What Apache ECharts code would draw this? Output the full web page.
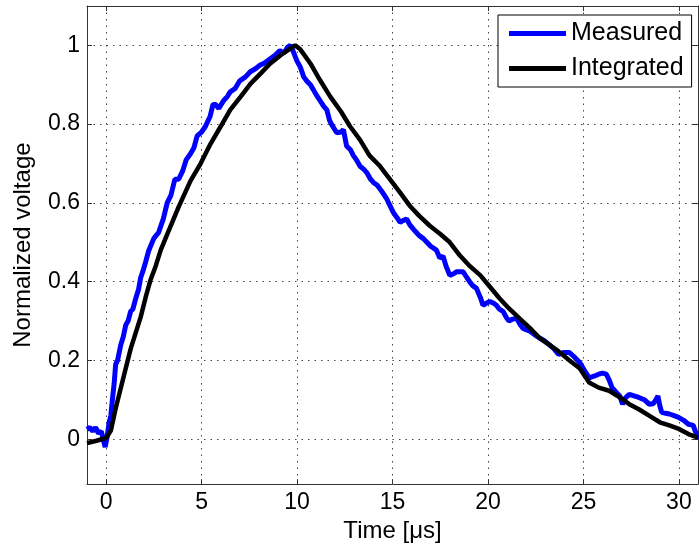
<!DOCTYPE html>
<html>
<head>
<meta charset="utf-8">
<script src="https://cdn.jsdelivr.net/npm/echarts@6/dist/echarts.min.js"></script>
<style>html,body{margin:0;padding:0;background:#fff;}#c{width:699px;height:548px;}</style>
</head>
<body>
<div id="c"></div>
<script>
// ---- data (time in microseconds, normalized voltage) ----
var measuredT = [-1,-0.85,-0.7,-0.55,-0.4,-0.25,-0.15,-0.05,0.05,0.15,0.25,0.35,0.42,0.5,0.6,0.77,0.9,1.03,1.15,1.29,1.4,1.55,1.7,1.81,1.95,2.07,2.24,2.5,2.75,3.0,3.2,3.4,3.6,3.8,4.0,4.2,4.42,4.6,4.77,5.0,5.2,5.45,5.6,5.73,5.9,6.16,6.35,6.5,6.75,7.0,7.3,7.55,7.8,8.07,8.3,8.6,8.85,9.1,9.3,9.5,9.65,9.8,9.9,10.0,10.17,10.35,10.5,10.7,10.86,11.0,11.2,11.4,11.56,11.7,11.8,12.08,12.3,12.43,12.6,12.8,12.95,13.1,13.3,13.5,13.65,13.85,14.0,14.2,14.35,14.5,14.7,14.9,15.04,15.2,15.4,15.55,15.74,15.9,16.08,16.25,16.4,16.6,16.8,17.0,17.1,17.3,17.48,17.65,17.8,18.0,18.2,18.35,18.7,18.9,19.04,19.2,19.4,19.6,19.74,19.9,20.1,20.3,20.44,20.6,20.8,20.95,21.1,21.3,21.5,21.7,21.83,22.0,22.2,22.45,22.7,22.95,23.2,23.45,23.7,23.95,24.27,24.5,24.8,25.05,25.3,25.55,25.8,26.0,26.2,26.35,26.5,26.7,26.9,27.05,27.2,27.4,27.65,27.9,28.2,28.44,28.65,28.8,28.9,29.0,29.1,29.3,29.5,29.75,30.0,30.25,30.5,30.75,30.9,31];
var measuredV = [0.025,0.03,0.02,0.03,0.015,0.02,0.0,-0.02,0.005,0.04,0.06,0.11,0.14,0.19,0.2,0.24,0.26,0.29,0.3,0.325,0.33,0.357,0.38,0.41,0.43,0.45,0.48,0.51,0.525,0.56,0.6,0.62,0.66,0.66,0.68,0.71,0.725,0.74,0.77,0.78,0.794,0.82,0.85,0.85,0.84,0.86,0.87,0.882,0.89,0.91,0.92,0.933,0.94,0.95,0.955,0.966,0.975,0.987,0.98,0.995,1.0,0.985,0.99,0.96,0.945,0.92,0.91,0.9,0.887,0.875,0.86,0.845,0.836,0.81,0.8,0.778,0.78,0.786,0.744,0.735,0.72,0.71,0.693,0.685,0.677,0.66,0.652,0.645,0.635,0.625,0.61,0.59,0.576,0.565,0.551,0.555,0.559,0.545,0.534,0.525,0.517,0.51,0.5,0.49,0.49,0.48,0.46,0.465,0.44,0.416,0.42,0.425,0.425,0.41,0.4,0.39,0.383,0.36,0.34,0.345,0.35,0.345,0.34,0.33,0.324,0.31,0.3,0.305,0.307,0.29,0.282,0.278,0.274,0.265,0.257,0.25,0.24,0.23,0.215,0.22,0.22,0.21,0.195,0.175,0.156,0.16,0.165,0.168,0.165,0.15,0.131,0.12,0.11,0.089,0.105,0.114,0.11,0.106,0.1,0.089,0.09,0.1,0.11,0.085,0.068,0.066,0.064,0.06,0.055,0.048,0.038,0.035,0.015,0.0];
var integratedT = [-1,-0.5,0,0.25,0.51,0.77,1.03,1.29,1.55,1.81,2.07,2.33,2.6,2.86,3.2,3.8,4.42,4.95,5.47,6.0,6.5,7.05,7.57,8.1,8.6,9.14,9.9,10.17,10.7,11.2,11.74,12.3,12.78,13.3,13.8,14.35,14.87,15.4,15.9,16.4,16.95,17.5,18.0,18.52,19.04,19.6,20.1,20.6,21.1,21.65,22.2,22.7,23.2,23.7,24.27,24.8,25.3,25.8,26.35,26.9,27.4,27.9,28.44,29.0,29.5,30.0,30.5,31];
var integratedV = [-0.01,-0.004,0.003,0.022,0.08,0.13,0.18,0.23,0.27,0.31,0.36,0.405,0.44,0.48,0.52,0.59,0.656,0.7,0.75,0.794,0.836,0.87,0.903,0.929,0.954,0.975,1.0,0.99,0.954,0.912,0.87,0.832,0.794,0.76,0.72,0.693,0.66,0.626,0.593,0.567,0.542,0.521,0.5,0.467,0.44,0.416,0.387,0.358,0.332,0.307,0.282,0.257,0.24,0.223,0.2,0.18,0.144,0.131,0.123,0.106,0.089,0.076,0.06,0.043,0.035,0.026,0.013,0.004];
var xTicks = [0, 5, 10, 15, 20, 25, 30];
var yTicks = [0, 0.2, 0.4, 0.6, 0.8, 1];
var seriesNames = ['Measured', 'Integrated'];
var xLabel = 'Time [\u03bcs]';
var yLabel = 'Normalized voltage';

function pairs(t, v) { return t.map(function (x, i) { return [x, v[i]]; }); }

var FONT = '"Liberation Sans", Arial, Helvetica, sans-serif';
var axisCol = '#333333';
var gridLine = { show: true, lineStyle: { color: '#444', width: 1, type: [1.5, 5] } };

var chart = echarts.init(document.getElementById('c'), null, { renderer: 'canvas' });
chart.setOption({
  animation: false,
  backgroundColor: '#ffffff',
  grid: { left: 87, top: 6, right: 1, bottom: 61, containLabel: false },
  legend: {
    orient: 'vertical',
    left: 498, top: 15,
    padding: [6, 8, 6, 11],
    itemGap: 10,
    itemWidth: 57, itemHeight: 5,
    icon: 'rect',
    backgroundColor: '#fff',
    borderColor: '#000', borderWidth: 1,
    textStyle: { fontFamily: FONT, fontSize: 25, color: '#000', padding: [0, 0, 0, 0] },
    data: seriesNames
  },
  xAxis: [{
    type: 'value', min: -1, max: 31, position: 'bottom',
    name: xLabel, nameLocation: 'middle', nameGap: 31,
    nameTextStyle: { fontFamily: FONT, fontSize: 24, color: '#000' },
    axisLine: { show: true, onZero: false, lineStyle: { color: axisCol, width: 1 } },
    axisTick: { show: true, inside: true, length: 5, customValues: xTicks, lineStyle: { color: axisCol } },
    axisLabel: { show: true, customValues: xTicks, margin: 7, fontFamily: FONT, fontSize: 23, color: '#000' },
    splitLine: gridLine
  }, {
    type: 'value', min: -1, max: 31, position: 'top',
    axisLine: { show: true, onZero: false, lineStyle: { color: axisCol, width: 1 } },
    axisTick: { show: true, inside: true, length: 5, customValues: xTicks, lineStyle: { color: axisCol } },
    axisLabel: { show: false },
    splitLine: { show: false }
  }],
  yAxis: [{
    type: 'value', min: -0.114, max: 1.1, position: 'left',
    name: yLabel, nameLocation: 'middle', nameGap: 52,
    nameTextStyle: { fontFamily: FONT, fontSize: 24, color: '#000' },
    axisLine: { show: true, onZero: false, lineStyle: { color: axisCol, width: 1 } },
    axisTick: { show: true, inside: true, length: 5, customValues: yTicks, lineStyle: { color: axisCol } },
    axisLabel: { show: true, customValues: yTicks, margin: 7, fontFamily: FONT, fontSize: 23, color: '#000' },
    splitLine: gridLine
  }, {
    type: 'value', min: -0.114, max: 1.1, position: 'right',
    axisLine: { show: true, onZero: false, lineStyle: { color: axisCol, width: 1 } },
    axisTick: { show: true, inside: true, length: 5, customValues: yTicks, lineStyle: { color: axisCol } },
    axisLabel: { show: false },
    splitLine: { show: false }
  }],
  series: [{
    name: seriesNames[0], type: 'line', xAxisIndex: 0, yAxisIndex: 0,
    data: pairs(measuredT, measuredV),
    showSymbol: false, symbol: 'none',
    color: '#0000ff',
    lineStyle: { color: '#0000ff', width: 5 },
    z: 3
  }, {
    name: seriesNames[1], type: 'line', xAxisIndex: 0, yAxisIndex: 0,
    data: pairs(integratedT, integratedV),
    showSymbol: false, symbol: 'none',
    color: '#000000',
    lineStyle: { color: '#000000', width: 4.5 },
    z: 4
  }]
});
</script>
</body>
</html>
